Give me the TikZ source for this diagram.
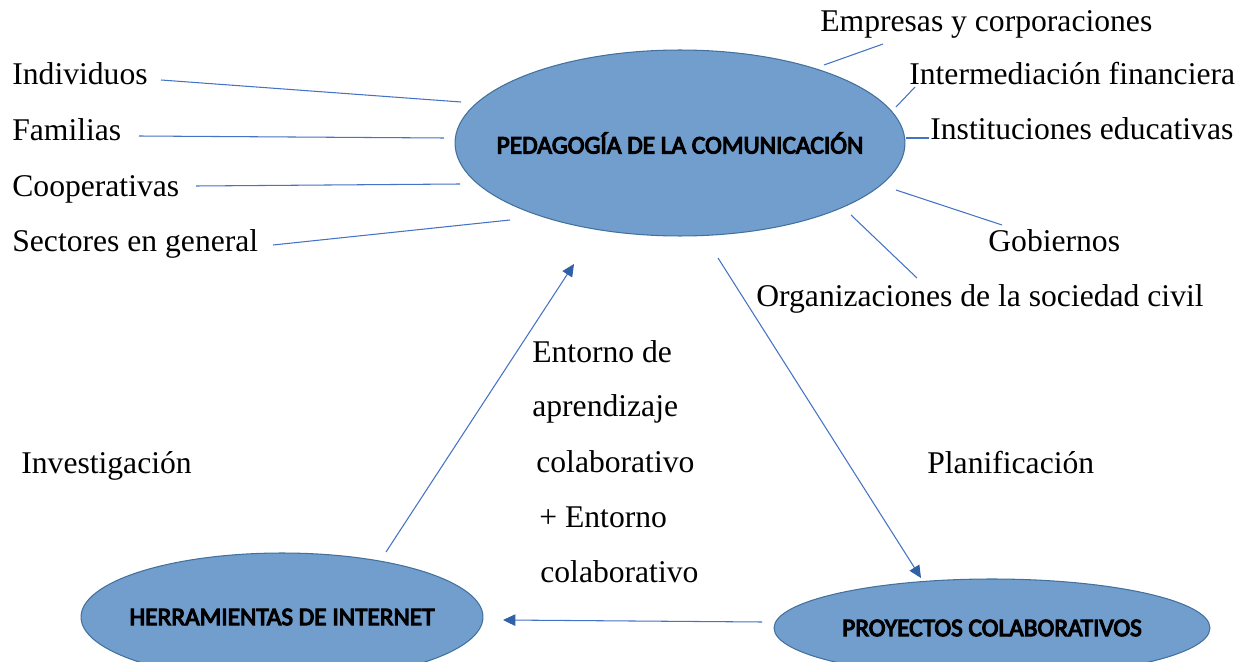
\documentclass[tikz,border=0pt]{standalone}
\usepackage{fontspec}
\setmainfont{Liberation Serif}
\newfontfamily\calibri{Carlito}[FakeBold=4.5]
\usetikzlibrary{arrows.meta,shapes.geometric}

\definecolor{ovalfill}{RGB}{114,158,206}
\definecolor{ovaldraw}{RGB}{65,113,156}
\definecolor{linkblue}{RGB}{68,114,196}
\definecolor{tipblue}{RGB}{48,96,165}

\tikzset{
	oval/.style={ellipse, draw=ovaldraw, fill=ovalfill, line width=0.6pt, inner sep=0pt, font=\calibri\fontsize{14.4}{16}\selectfont},
	lbl/.style={anchor=base west, inner sep=0pt, font=\fontsize{18}{22}\selectfont},
	link/.style={draw=linkblue, line width=0.6pt},
	flow/.style={link, -{Triangle[length=7pt,width=6.5pt,color=tipblue]}}
}

\begin{document}
\begin{tikzpicture}[x=0.02cm,y=-0.02cm]
			%%%%% START %%%%%
			\useasboundingbox (0,0) rectangle (1248,662);
			
			\node[oval, minimum width=9cm, minimum height=3.72cm] (ped) at (680,143) {\makebox[0pt]{PEDAGOGÍA DE LA COMUNICACIÓN}};
			\node[oval, minimum width=8.04cm, minimum height=2.56cm] (herr) at (282,617) {\makebox[0pt]{HERRAMIENTAS DE INTERNET}};
			\node[oval, minimum width=8.72cm, minimum height=1.96cm] (proy) at (992,628) {\makebox[0pt]{PROYECTOS COLABORATIVOS}};
			
			% sectores a la izquierda
			\node[lbl] (indiv) at (12,85) {Individuos};
			\node[lbl] (famil) at (12,141) {Familias};
			\node[lbl] (coop) at (12,197) {Cooperativas};
			\node[lbl] (sect) at (12,252) {Sectores en general};
			
			% sectores a la derecha
			\node[lbl] (empr) at (820,32) {Empresas y corporaciones};
			\node[lbl] (inter) at (909,85) {Intermediación financiera};
			\node[lbl] (inst) at (930,140) {Instituciones educativas};
			\node[lbl] (gob) at (988,252) {Gobiernos};
			\node[lbl] (org) at (756,307) {Organizaciones de la sociedad civil};
			
			% textos del ciclo
			\node[lbl] (inv) at (21,473) {Investigación};
			\node[lbl] (plan) at (927,473) {Planificación};
			\node[lbl] (ent1) at (532,362) {Entorno de};
			\node[lbl] (ent2) at (532,417) {aprendizaje};
			\node[lbl] (ent3) at (536,472) {colaborativo};
			\node[lbl] (ent4) at (539,527) {+ Entorno};
			\node[lbl] (ent5) at (540,582) {colaborativo};
			
			\coordinate (indiv-e) at (161,80);  \coordinate (ped-indiv) at (461,102);
			\coordinate (famil-e) at (139,136); \coordinate (ped-famil) at (444,138);
			\coordinate (coop-e) at (196,186);  \coordinate (ped-coop) at (460,184);
			\coordinate (sect-e) at (273,245);  \coordinate (ped-sect) at (510,220);
			\coordinate (empr-s) at (883,44);   \coordinate (ped-empr) at (824,65);
			\coordinate (inter-w) at (915,87);  \coordinate (ped-inter) at (896,107);
			\coordinate (inst-w) at (929,138);  \coordinate (ped-inst) at (906,138);
			\coordinate (gob-n) at (1002,225);  \coordinate (ped-gob) at (896,190);
			\coordinate (org-n) at (917,278);   \coordinate (ped-org) at (851,215);
			
			\draw[link] (indiv-e) -- (ped-indiv);
			\draw[link] (famil-e) -- (ped-famil);
			\draw[link] (coop-e) -- (ped-coop);
			\draw[link] (sect-e) -- (ped-sect);
			\draw[link] (empr-s) -- (ped-empr);
			\draw[link] (inter-w) -- (ped-inter);
			\draw[link] (inst-w) -- (ped-inst);
			\draw[link] (gob-n) -- (ped-gob);
			\draw[link] (org-n) -- (ped-org);
			
			% ciclo
			\coordinate (herr-out) at (386,552); \coordinate (ped-in) at (574,264);
			\coordinate (ped-out) at (718,258);  \coordinate (proy-in) at (921,578);
			\coordinate (proy-out) at (762,622); \coordinate (herr-in) at (503,620);
			\draw[flow] (herr-out) -- (ped-in);
			\draw[flow] (ped-out) -- (proy-in);
			\draw[flow] (proy-out) -- (herr-in);
			
			%%%%% END %%%%%
\end{tikzpicture}
\end{document}
